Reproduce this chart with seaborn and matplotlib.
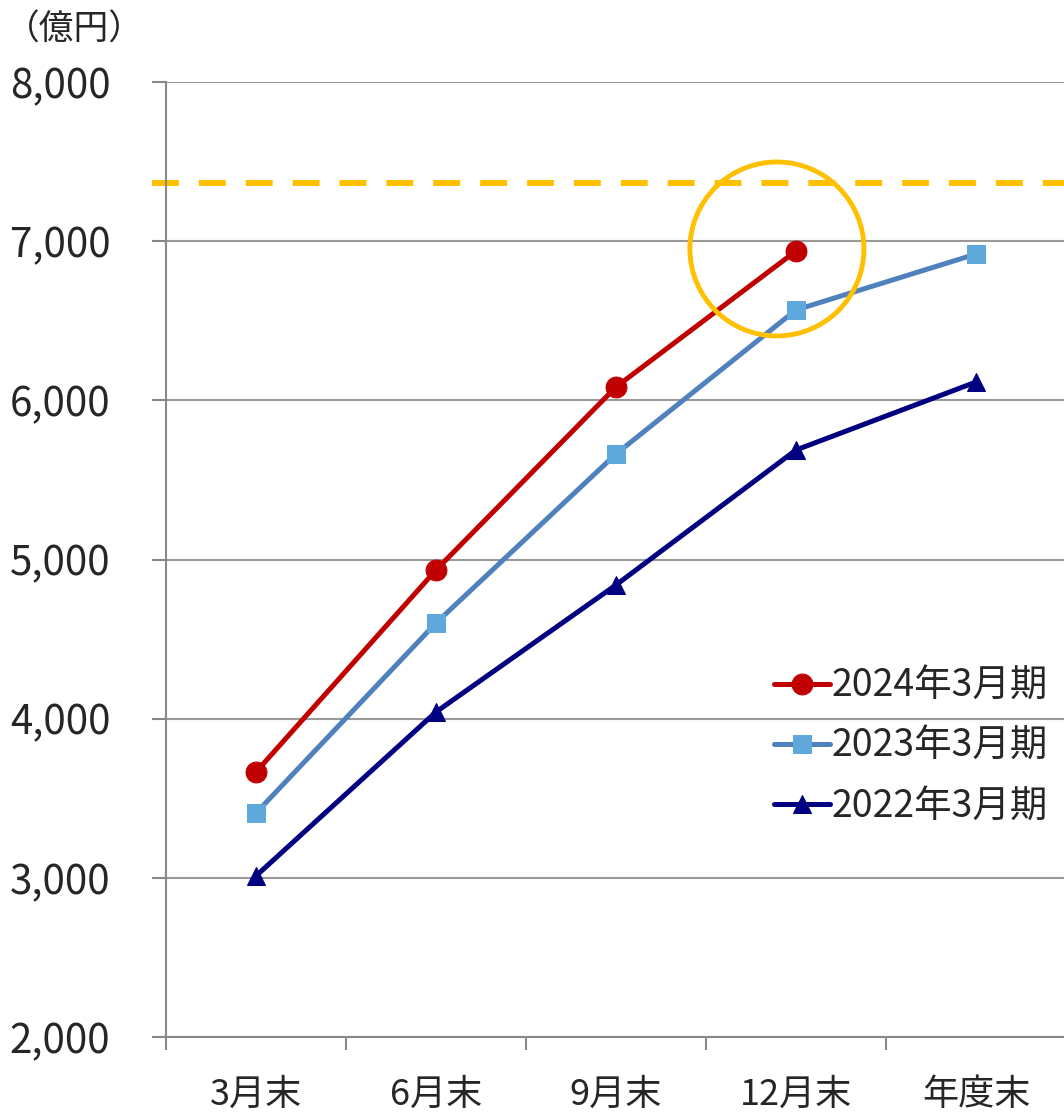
import matplotlib.pyplot as plt
import seaborn as sns
import pandas as pd
from matplotlib.patches import Ellipse
from matplotlib.ticker import FixedLocator, FuncFormatter

sns.set_theme(style='white')
plt.rcParams['font.family'] = ['Noto Sans CJK JP', 'DejaVu Sans']

categories = ['3月末', '6月末', '9月末', '12月末', '年度末']
fy2024 = [3665, 4934, 6084, 6938]
fy2023 = [3407, 4601, 5663, 6568, 6919]
fy2022 = [3012, 4042, 4840, 5688, 6115]
target = 7365
yticks = [2000, 3000, 4000, 5000, 6000, 7000, 8000]

series = [
    ('2024年3月期', fy2024, '#C00000', '#C00000', 'o', 15),
    ('2023年3月期', fy2023, '#4F81BD', '#5FA8DC', 's', 12.5),
    ('2022年3月期', fy2022, '#000080', '#000080', '^', 12.5),
]

fig = plt.figure(figsize=(10.64, 11.14), dpi=100)
ax = fig.add_axes([166/1064, 1-1037/1114, 900/1064, (1037-82)/1114])

for name, vals, lc, mc, mk, ms in series:
    df = pd.DataFrame({'x': list(range(len(vals))), 'y': vals})
    sns.lineplot(data=df, x='x', y='y', ax=ax, color=lc, linewidth=3.6, marker=mk,
                 markersize=ms, markerfacecolor=mc, markeredgecolor=mc, label=name)

# target line starts just left of the y spine
ax.axhline(target, xmin=-0.0156, xmax=1.0, color='#FFC000', linewidth=4.3,
           dashes=(4.5, 3.35), zorder=1, clip_on=False)
ax.add_patch(Ellipse((2.894, 6951), 0.967, 1093, fill=False, edgecolor='#FFC000', linewidth=3.5, zorder=5))

ax.set_xlim(-0.5, 4.5)
ax.set_ylim(2000, 8000)
ax.yaxis.set_major_locator(FixedLocator(yticks))
ax.yaxis.set_major_formatter(FuncFormatter(lambda v, p: f'{int(v):,}'))
ax.set_xticks(range(len(categories)))
ax.set_xticklabels(categories, fontsize=26)
ax.xaxis.set_minor_locator(FixedLocator([i - 0.5 for i in range(len(categories) + 1)]))
ax.tick_params(axis='x', which='major', length=0, pad=29)
ax.tick_params(axis='x', which='minor', length=9, width=1.5, color='#888888', direction='out', bottom=True)
ax.tick_params(axis='y', which='major', length=10, width=1.5, color='#888888', direction='out', left=True,
               labelsize=29, pad=30)
ax.grid(axis='y', color='#999999', linewidth=1.5)
ax.set_axisbelow(True)
for side in ['top', 'right']:
    ax.spines[side].set_visible(False)
for side in ['left', 'bottom']:
    ax.spines[side].set_color('#888888')
    ax.spines[side].set_linewidth(1.5)
ax.set_xlabel('')
ax.set_ylabel('')

leg = ax.legend(loc='center right', bbox_to_anchor=(0.98, 0.304), frameon=False, fontsize=27,
                handlelength=1.5, handletextpad=0.05, labelspacing=0.57, borderaxespad=0, borderpad=0)
fig.text(5/1064, 1-30/1114, '（億円）', fontsize=25, va='center', ha='left')

fig.savefig('out.png', dpi=100)
